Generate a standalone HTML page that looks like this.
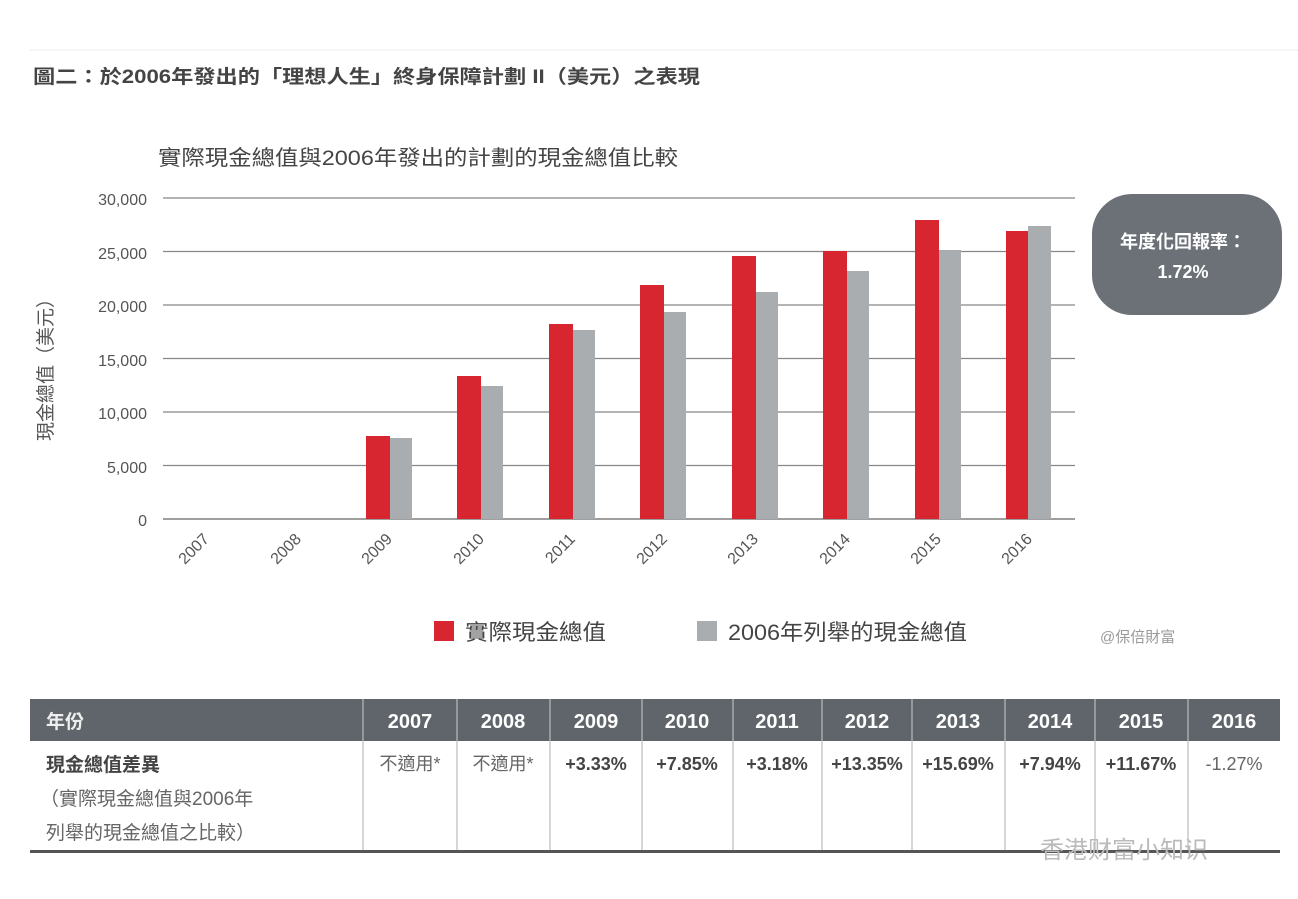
<!DOCTYPE html>
<html><head><meta charset="utf-8"><style>
body{margin:0;background:#fff;width:1298px;height:894px;overflow:hidden}
svg text{font-family:"Liberation Sans","Noto Sans CJK TC",sans-serif}
</style></head><body>
<svg width="1298" height="894" xmlns="http://www.w3.org/2000/svg">
<line x1="30" y1="50" x2="1298" y2="50" stroke="#eee"/>
<text x="33" y="83" font-size="19" font-weight="bold" fill="#444" textLength="667" lengthAdjust="spacingAndGlyphs">圖二：於2006年發出的「理想人生」終身保障計劃 II（美元）之表現</text>
<text x="158" y="165" font-size="21" fill="#444" textLength="520" lengthAdjust="spacingAndGlyphs">實際現金總值與2006年發出的計劃的現金總值比較</text>
<g stroke="#888" stroke-width="1.2">
<line x1="163" y1="198" x2="1075" y2="198"/><line x1="163" y1="251.5" x2="1075" y2="251.5"/>
<line x1="163" y1="305" x2="1075" y2="305"/><line x1="163" y1="358.5" x2="1075" y2="358.5"/>
<line x1="163" y1="412" x2="1075" y2="412"/><line x1="163" y1="465.5" x2="1075" y2="465.5"/>
<line x1="163" y1="519" x2="1075" y2="519" stroke="#666"/>
</g>
<g font-size="16" fill="#555" text-anchor="end">
<text x="147" y="205">30,000</text><text x="147" y="259">25,000</text><text x="147" y="312">20,000</text>
<text x="147" y="366">15,000</text><text x="147" y="419">10,000</text><text x="147" y="473">5,000</text><text x="147" y="526">0</text>
</g>
<text transform="translate(52,365) rotate(-90)" font-size="19" fill="#555" text-anchor="middle">現金總值（美元）</text>
<g fill="#d7262f">
<rect x="366" y="436" width="24" height="83"/><rect x="457" y="376" width="24" height="143"/>
<rect x="549" y="324" width="24" height="195"/><rect x="640" y="285" width="24" height="234"/>
<rect x="732" y="256" width="24" height="263"/><rect x="823" y="251" width="24" height="268"/>
<rect x="915" y="220" width="24" height="299"/><rect x="1006" y="231" width="22" height="288"/>
</g>
<g fill="#a9adb0">
<rect x="390" y="438" width="22" height="81"/><rect x="481" y="386" width="22" height="133"/>
<rect x="573" y="330" width="22" height="189"/><rect x="664" y="312" width="22" height="207"/>
<rect x="756" y="292" width="22" height="227"/><rect x="847" y="271" width="22" height="248"/>
<rect x="939" y="250" width="22" height="269"/><rect x="1028" y="226" width="23" height="293"/>
</g>
<g font-size="16" fill="#555" text-anchor="end">
<text transform="translate(210,540) rotate(-45)">2007</text><text transform="translate(302,540) rotate(-45)">2008</text>
<text transform="translate(393,540) rotate(-45)">2009</text><text transform="translate(485,540) rotate(-45)">2010</text>
<text transform="translate(576,540) rotate(-45)">2011</text><text transform="translate(668,540) rotate(-45)">2012</text>
<text transform="translate(759,540) rotate(-45)">2013</text><text transform="translate(851,540) rotate(-45)">2014</text>
<text transform="translate(942,540) rotate(-45)">2015</text><text transform="translate(1033,540) rotate(-45)">2016</text>
</g>
<rect x="1092" y="194" width="190" height="121" rx="40" fill="#6b7177"/>
<text x="1183" y="248" font-size="18" font-weight="bold" fill="#fff" text-anchor="middle">年度化回報率：</text>
<text x="1183" y="278" font-size="18" font-weight="bold" fill="#fff" text-anchor="middle">1.72%</text>
<rect x="434" y="621" width="20" height="20" fill="#d7262f"/>
<text x="465" y="640" font-size="22" fill="#444" textLength="141" lengthAdjust="spacingAndGlyphs">實際現金總值</text>
<rect x="697" y="621" width="20" height="20" fill="#a9adb0"/>
<text x="728" y="640" font-size="22" fill="#444" textLength="239" lengthAdjust="spacingAndGlyphs">2006年列舉的現金總值</text>
<text x="1100" y="642" font-size="15" fill="#999">@保倍財富</text>
<rect x="30" y="699" width="1250" height="42" fill="#5f656a"/>
<text x="46" y="728" font-size="19" font-weight="bold" fill="#eee">年份</text>
<g stroke="#bbb" stroke-width="1.2">
<line x1="363" y1="699" x2="363" y2="851"/><line x1="457" y1="699" x2="457" y2="851"/>
<line x1="550" y1="699" x2="550" y2="851"/><line x1="642" y1="699" x2="642" y2="851"/>
<line x1="733" y1="699" x2="733" y2="851"/><line x1="822" y1="699" x2="822" y2="851"/>
<line x1="912" y1="699" x2="912" y2="851"/><line x1="1005" y1="699" x2="1005" y2="851"/>
<line x1="1095" y1="699" x2="1095" y2="851"/><line x1="1188" y1="699" x2="1188" y2="851"/>
</g>
<g font-size="20" font-weight="bold" fill="#fff" text-anchor="middle">
<text x="410" y="728">2007</text><text x="503" y="728">2008</text><text x="596" y="728">2009</text>
<text x="687" y="728">2010</text><text x="777" y="728">2011</text><text x="867" y="728">2012</text>
<text x="958" y="728">2013</text><text x="1050" y="728">2014</text><text x="1141" y="728">2015</text><text x="1234" y="728">2016</text>
</g>
<text x="46" y="771" font-size="19" font-weight="bold" fill="#444">現金總值差異</text>
<text x="40" y="805" font-size="19" fill="#666">（實際現金總值與2006年</text>
<text x="46" y="839" font-size="19" fill="#666">列舉的現金總值之比較）</text>
<g font-size="18" fill="#444" text-anchor="middle">
<text x="410" y="770" fill="#666">不適用*</text><text x="503" y="770" fill="#666">不適用*</text>
<text x="596" y="770" font-weight="bold">+3.33%</text><text x="687" y="770" font-weight="bold">+7.85%</text>
<text x="777" y="770" font-weight="bold">+3.18%</text><text x="867" y="770" font-weight="bold">+13.35%</text>
<text x="958" y="770" font-weight="bold">+15.69%</text><text x="1050" y="770" font-weight="bold">+7.94%</text>
<text x="1141" y="770" font-weight="bold">+11.67%</text><text x="1234" y="770" fill="#666">-1.27%</text>
</g>
<rect x="30" y="850" width="1250" height="3" fill="#555"/>
<text x="1040" y="858" font-size="24" fill="#bbb">香港财富小知识</text>
</svg>
</body></html>
